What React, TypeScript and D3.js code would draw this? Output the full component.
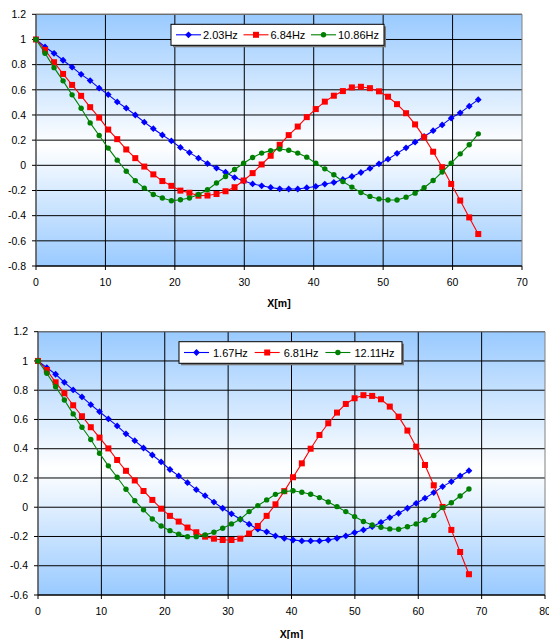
import React from "react";
import * as d3 from "d3";

// ---- Upper chart: positions along the line (m) and normalised amplitudes ----
const X_UPPER = [
  0, 1.3, 2.6, 3.9, 5.2, 6.5, 7.8, 9.1, 10.4, 11.7, 13, 14.3, 15.6, 16.9, 18.2, 19.5, 20.8,
  22.1, 23.4, 24.7, 26, 27.3, 28.6, 29.9, 31.2, 32.5, 33.8, 35.1, 36.4, 37.7, 39, 40.3, 41.6,
  42.9, 44.2, 45.5, 46.8, 48.1, 49.4, 50.7, 52, 53.3, 54.6, 55.9, 57.2, 58.5, 59.8, 61.1, 62.4,
  63.7,
];
const UPPER_203 = [
  1.0, 0.94, 0.89, 0.835, 0.78, 0.723, 0.673, 0.613, 0.562, 0.504, 0.454, 0.4, 0.343, 0.291,
  0.241, 0.194, 0.142, 0.101, 0.057, 0.014, -0.022, -0.055, -0.097, -0.123, -0.148, -0.163,
  -0.176, -0.187, -0.188, -0.188, -0.178, -0.168, -0.149, -0.136, -0.112, -0.089, -0.057,
  -0.025, 0.012, 0.049, 0.095, 0.139, 0.184, 0.229, 0.275, 0.321, 0.375, 0.417, 0.47, 0.522,
];
const UPPER_684 = [
  1.0, 0.917, 0.819, 0.726, 0.639, 0.552, 0.462, 0.379, 0.284, 0.208, 0.126, 0.057, -0.01,
  -0.072, -0.125, -0.163, -0.201, -0.218, -0.241, -0.24, -0.228, -0.206, -0.174, -0.121,
  -0.062, 0.007, 0.076, 0.163, 0.24, 0.308, 0.383, 0.447, 0.506, 0.553, 0.59, 0.619, 0.624,
  0.613, 0.588, 0.545, 0.486, 0.414, 0.325, 0.224, 0.108, -0.015, -0.148, -0.28, -0.414,
  -0.546,
];
const UPPER_1086 = [
  1.0, 0.89, 0.776, 0.671, 0.56, 0.454, 0.337, 0.237, 0.137, 0.041, -0.047, -0.122, -0.181,
  -0.232, -0.26, -0.282, -0.274, -0.26, -0.232, -0.194, -0.141, -0.089, -0.033, 0.017, 0.062,
  0.097, 0.117, 0.13, 0.12, 0.097, 0.065, 0.017, -0.028, -0.075, -0.128, -0.173, -0.216,
  -0.247, -0.267, -0.276, -0.276, -0.253, -0.221, -0.178, -0.121, -0.053, 0.017, 0.091, 0.163,
  0.25,
];

// ---- Lower chart ----
const X_LOWER = [
  0, 1.39, 2.78, 4.16, 5.55, 6.94, 8.33, 9.71, 11.1, 12.49, 13.88, 15.27, 16.65, 18.04, 19.43,
  20.82, 22.2, 23.59, 24.98, 26.37, 27.76, 29.14, 30.53, 31.92, 33.31, 34.69, 36.08, 37.47,
  38.86, 40.24, 41.63, 43.02, 44.41, 45.8, 47.18, 48.57, 49.96, 51.35, 52.73, 54.12, 55.51,
  56.9, 58.29, 59.67, 61.06, 62.45, 63.84, 65.22, 66.61, 68.0,
];
const LOWER_167 = [
  1.0, 0.954, 0.909, 0.854, 0.802, 0.754, 0.701, 0.653, 0.604, 0.556, 0.502, 0.455, 0.405,
  0.357, 0.31, 0.258, 0.214, 0.168, 0.12, 0.079, 0.035, -0.007, -0.045, -0.082, -0.116, -0.15,
  -0.168, -0.196, -0.212, -0.224, -0.23, -0.23, -0.23, -0.224, -0.212, -0.196, -0.173, -0.155,
  -0.133, -0.103, -0.071, -0.041, -0.007, 0.027, 0.062, 0.1, 0.141, 0.175, 0.214, 0.25,
];
const LOWER_681 = [
  1.0, 0.938, 0.854, 0.779, 0.697, 0.622, 0.547, 0.476, 0.402, 0.323, 0.249, 0.183, 0.111,
  0.05, -0.01, -0.059, -0.098, -0.139, -0.171, -0.201, -0.215, -0.224, -0.224, -0.215, -0.18,
  -0.128, -0.059, 0.02, 0.11, 0.205, 0.3, 0.4, 0.494, 0.574, 0.647, 0.706, 0.745, 0.766, 0.761,
  0.738, 0.688, 0.619, 0.524, 0.414, 0.289, 0.15, 0.002, -0.155, -0.306, -0.458,
];
const LOWER_1211 = [
  1.0, 0.916, 0.824, 0.733, 0.638, 0.547, 0.463, 0.369, 0.283, 0.205, 0.123, 0.045, -0.018,
  -0.08, -0.128, -0.16, -0.185, -0.201, -0.201, -0.189, -0.171, -0.144, -0.114, -0.082, -0.03,
  0.011, 0.05, 0.088, 0.107, 0.113, 0.102, 0.089, 0.066, 0.036, 0.004, -0.03, -0.064, -0.098,
  -0.121, -0.137, -0.148, -0.15, -0.133, -0.114, -0.087, -0.057, -0.003, 0.031, 0.077, 0.125,
];

// ---- Axis ticks and legend labels ----
const X_TICKS_UPPER = [0, 10, 20, 30, 40, 50, 60, 70];
const Y_TICKS_UPPER = [-0.8, -0.6, -0.4, -0.2, 0, 0.2, 0.4, 0.6, 0.8, 1, 1.2];
const X_TICKS_LOWER = [0, 10, 20, 30, 40, 50, 60, 70, 80];
const Y_TICKS_LOWER = [-0.6, -0.4, -0.2, 0, 0.2, 0.4, 0.6, 0.8, 1, 1.2];
const LABELS_UPPER = ["2.03Hz", "6.84Hz", "10.86Hz"];
const LABELS_LOWER = ["1.67Hz", "6.81Hz", "12.11Hz"];
const X_TITLE = "X[m]";

const COLORS = ["#0000ff", "#ff0000", "#008000"];
const SHAPES = ["diamond", "square", "circle"];
const FONT = "'Liberation Sans', Arial, sans-serif";

type Shape = "diamond" | "square" | "circle";

function Marker({ cx, cy, shape, color }: { cx: number; cy: number; shape: Shape; color: string }) {
  if (shape === "diamond") {
    const r = 3.4;
    return (
      <path
        d={`M${cx},${cy - r}L${cx + r},${cy}L${cx},${cy + r}L${cx - r},${cy}Z`}
        fill={color}
      />
    );
  }
  if (shape === "square") {
    const s = 6;
    return <rect x={cx - s / 2} y={cy - s / 2} width={s} height={s} fill={color} />;
  }
  return <circle cx={cx} cy={cy} r={2.7} fill={color} />;
}

interface ChartProps {
  id: string;
  xs: number[];
  series: number[][];
  labels: string[];
  xTicks: number[];
  yTicks: number[];
  box: { x0: number; x1: number; y0: number; y1: number };
  legend: { x: number; y: number; w: number; h: number; pitch: number; textOffset: number };
  titleDy: number;
}

function Chart({ id, xs, series, labels, xTicks, yTicks, box, legend, titleDy }: ChartProps) {
  const x = d3
    .scaleLinear()
    .domain([xTicks[0], xTicks[xTicks.length - 1]])
    .range([box.x0, box.x1]);
  const y = d3
    .scaleLinear()
    .domain([yTicks[0], yTicks[yTicks.length - 1]])
    .range([box.y1, box.y0]);
  const line = d3
    .line<number>()
    .x((_, i) => x(xs[i]))
    .y((d) => y(d));
  const fmt = (v: number) => String(+v.toFixed(1));
  const gid = `bg-${id}`;
  const ly = legend.y + legend.h / 2;

  return (
    <g>
      <defs>
        <linearGradient id={gid} x1="0" y1="0" x2="0" y2="1">
          <stop offset="0" stopColor="#99caff" />
          <stop offset="0.52" stopColor="#ffffff" />
          <stop offset="1" stopColor="#99caff" />
        </linearGradient>
      </defs>
      <rect
        x={box.x0}
        y={box.y0}
        width={box.x1 - box.x0}
        height={box.y1 - box.y0}
        fill={`url(#${gid})`}
      />
      {/* gridlines */}
      {yTicks.map((t) => (
        <line key={`gy${t}`} x1={box.x0} x2={box.x1} y1={y(t)} y2={y(t)} stroke="#000" strokeWidth={1} />
      ))}
      {xTicks.slice(1, -1).map((t) => (
        <line key={`gx${t}`} x1={x(t)} x2={x(t)} y1={box.y0} y2={box.y1} stroke="#000" strokeWidth={1} />
      ))}
      {/* plot frame */}
      <line x1={box.x0} x2={box.x1} y1={box.y0} y2={box.y0} stroke="#808080" strokeWidth={1} />
      <line x1={box.x1} x2={box.x1} y1={box.y0} y2={box.y1} stroke="#808080" strokeWidth={1} />
      {/* axes */}
      <line x1={box.x0} x2={box.x0} y1={box.y0} y2={box.y1} stroke="#555" strokeWidth={1.6} />
      <line x1={box.x0} x2={box.x1} y1={box.y1} y2={box.y1} stroke="#000" strokeWidth={1} />
      {yTicks.map((t) => (
        <g key={`ty${t}`}>
          <line x1={box.x0 - 4} x2={box.x0} y1={y(t)} y2={y(t)} stroke="#000" />
          <text
            x={box.x0 - 10}
            y={y(t) + 3.7}
            textAnchor="end"
            fontFamily={FONT}
            fontSize={10.5}
            fill="#000"
          >
            {fmt(t)}
          </text>
        </g>
      ))}
      {xTicks.map((t) => (
        <g key={`tx${t}`}>
          <line x1={x(t)} x2={x(t)} y1={box.y1} y2={box.y1 + 4} stroke="#000" />
          <text
            x={x(t)}
            y={box.y1 + 20}
            textAnchor="middle"
            fontFamily={FONT}
            fontSize={10.5}
            fill="#000"
          >
            {t}
          </text>
        </g>
      ))}
      <text
        x={(box.x0 + box.x1) / 2}
        y={box.y1 + titleDy}
        textAnchor="middle"
        fontFamily={FONT}
        fontSize={10.5}
        fontWeight="bold"
        fill="#000"
      >
        {X_TITLE}
      </text>
      {/* series */}
      {series.map((vals, si) => (
        <g key={`s${si}`}>
          <path d={line(vals) || ""} fill="none" stroke={COLORS[si]} strokeWidth={1.1} />
          {vals.map((v, i) => (
            <Marker
              key={i}
              cx={x(xs[i])}
              cy={y(v)}
              shape={SHAPES[si] as Shape}
              color={COLORS[si]}
            />
          ))}
        </g>
      ))}
      {/* legend */}
      <rect x={legend.x + 2} y={legend.y + 2} width={legend.w} height={legend.h} fill="#777" />
      <rect
        x={legend.x}
        y={legend.y}
        width={legend.w}
        height={legend.h}
        fill="#fff"
        stroke="#000"
        strokeWidth={1}
      />
      {labels.map((lab, si) => {
        const lx = legend.x + 5 + si * legend.pitch;
        return (
          <g key={`l${si}`}>
            <line x1={lx} x2={lx + 25} y1={ly} y2={ly} stroke={COLORS[si]} strokeWidth={1.1} />
            <Marker cx={lx + 12.5} cy={ly} shape={SHAPES[si] as Shape} color={COLORS[si]} />
            <text
              x={lx + legend.textOffset}
              y={ly + 4}
              fontFamily={FONT}
              fontSize={11}
              fill="#000"
            >
              {lab}
            </text>
          </g>
        );
      })}
    </g>
  );
}

export default function App() {
  return (
    <div style={{ position: "absolute", left: 0, top: 0 }}>
      <svg width={549} height={639} style={{ display: "block", background: "#fff" }}>
        <Chart
          id="upper"
          xs={X_UPPER}
          series={[UPPER_203, UPPER_684, UPPER_1086]}
          labels={LABELS_UPPER}
          xTicks={X_TICKS_UPPER}
          yTicks={Y_TICKS_UPPER}
          box={{ x0: 36, x1: 522, y0: 14.3, y1: 266 }}
          legend={{ x: 171, y: 24.3, w: 213, h: 21, pitch: 67.5, textOffset: 27 }}
          titleDy={41}
        />
        <Chart
          id="lower"
          xs={X_LOWER}
          series={[LOWER_167, LOWER_681, LOWER_1211]}
          labels={LABELS_LOWER}
          xTicks={X_TICKS_LOWER}
          yTicks={Y_TICKS_LOWER}
          box={{ x0: 38, x1: 545, y0: 331.7, y1: 595 }}
          legend={{ x: 179, y: 341.7, w: 223, h: 21.6, pitch: 70.7, textOffset: 29 }}
          titleDy={42.5}
        />
      </svg>
    </div>
  );
}
